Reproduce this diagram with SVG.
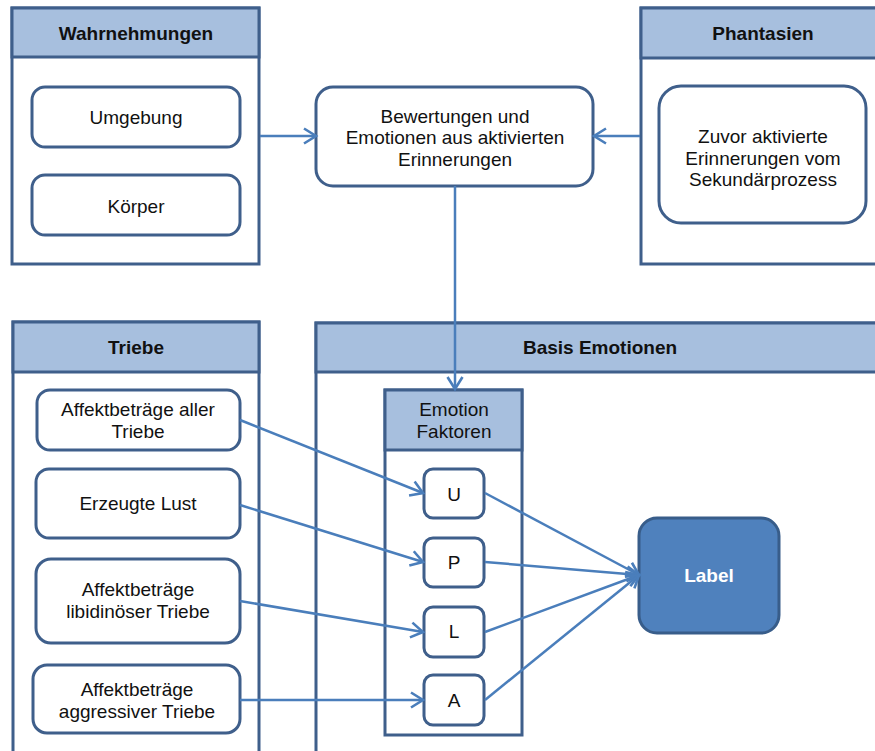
<svg xmlns="http://www.w3.org/2000/svg" width="875" height="751" viewBox="0 0 875 751">
  <style>
    .panel { fill: #ffffff; stroke: #3f5f8b; stroke-width: 3; }
    .head { fill: #a7bfde; stroke: #3f5f8b; stroke-width: 3; }
    .box { fill: #ffffff; stroke: #3f5f8b; stroke-width: 3; }
    .label { fill: #4f81bd; stroke: #385d8a; stroke-width: 3; }
    text { font-family: "Liberation Sans", Arial, sans-serif; font-size: 19px; fill: #111111; text-anchor: middle; }
    .bold { font-weight: bold; }
    .white { fill: #ffffff; }
    .conn { fill: none; stroke: #4a7ebb; stroke-width: 2.5; marker-end: url(#arrow); }
  </style>
  <defs>
    <marker id="arrow" markerUnits="userSpaceOnUse" markerWidth="16" markerHeight="20" refX="13" refY="9" orient="auto">
      <path d="M1,1.5 L13,9 L1,16.5" fill="none" stroke="#4a7ebb" stroke-width="2.6" stroke-linejoin="miter"/>
    </marker>
  </defs>

  <rect width="875" height="751" fill="#ffffff"/>

  <!-- Wahrnehmungen -->
  <g id="wahrnehmungen">
    <rect class="panel" x="12" y="8" width="247" height="256"/>
    <rect class="head" x="12" y="8" width="247" height="49"/>
    <text class="bold" x="136" y="40">Wahrnehmungen</text>
    <g id="umgebung">
      <rect class="box" x="32" y="87" width="208" height="60" rx="13"/>
      <text x="136" y="124">Umgebung</text>
    </g>
    <g id="koerper">
      <rect class="box" x="32" y="175" width="208" height="60" rx="13"/>
      <text x="136" y="213">Körper</text>
    </g>
  </g>

  <!-- Phantasien -->
  <g id="phantasien">
    <rect class="panel" x="641" y="8" width="244" height="256"/>
    <rect class="head" x="641" y="8" width="244" height="50"/>
    <text class="bold" x="763" y="40">Phantasien</text>
    <g id="zuvor">
      <rect class="box" x="659" y="86" width="207" height="137" rx="22"/>
      <text x="763" y="143">Zuvor aktivierte</text>
      <text x="763" y="165">Erinnerungen vom</text>
      <text x="763" y="186">Sekundärprozess</text>
    </g>
  </g>

  <!-- Bewertungen -->
  <g id="bewertungen">
    <rect class="box" x="316" y="87" width="277" height="99" rx="17"/>
    <text x="455" y="123">Bewertungen und</text>
    <text x="455" y="144">Emotionen aus aktivierten</text>
    <text x="455" y="166">Erinnerungen</text>
  </g>

  <!-- Triebe -->
  <g id="triebe">
    <rect class="panel" x="13" y="322" width="246" height="440"/>
    <rect class="head" x="13" y="322" width="246" height="50"/>
    <text class="bold" x="136" y="354">Triebe</text>
    <g id="affekt-alle">
      <rect class="box" x="37" y="390" width="203" height="60" rx="13"/>
      <text x="138" y="416">Affektbeträge aller</text>
      <text x="138" y="438">Triebe</text>
    </g>
    <g id="lust">
      <rect class="box" x="36" y="469" width="204" height="69" rx="13"/>
      <text x="138" y="510">Erzeugte Lust</text>
    </g>
    <g id="affekt-libido">
      <rect class="box" x="36" y="559" width="204" height="84" rx="15"/>
      <text x="138" y="596">Affektbeträge</text>
      <text x="138" y="618">libidinöser Triebe</text>
    </g>
    <g id="affekt-aggr">
      <rect class="box" x="33" y="665" width="207" height="68" rx="14"/>
      <text x="137" y="696">Affektbeträge</text>
      <text x="137" y="718">aggressiver Triebe</text>
    </g>
  </g>

  <!-- Basis Emotionen -->
  <g id="basis-emotionen">
    <rect class="panel" x="316" y="323" width="570" height="440"/>
    <rect class="head" x="316" y="323" width="570" height="49"/>
    <text class="bold" x="600" y="354">Basis Emotionen</text>
    <g id="emotion-faktoren">
      <rect class="panel" x="385" y="390" width="137" height="345"/>
      <rect class="head" x="385" y="390" width="137" height="60"/>
      <text x="454" y="416">Emotion</text>
      <text x="454" y="438">Faktoren</text>
    </g>
    <g id="u">
      <rect class="box" x="424" y="469" width="60" height="49" rx="9"/>
      <text x="454" y="501">U</text>
    </g>
    <g id="p">
      <rect class="box" x="424" y="538" width="60" height="49" rx="9"/>
      <text x="454" y="569">P</text>
    </g>
    <g id="l">
      <rect class="box" x="424" y="607" width="60" height="50" rx="9"/>
      <text x="454" y="638">L</text>
    </g>
    <g id="a">
      <rect class="box" x="424" y="675" width="60" height="50" rx="9"/>
      <text x="454" y="707">A</text>
    </g>
    <g id="label">
      <rect class="label" x="639" y="518" width="140" height="115" rx="18"/>
      <text class="bold white" x="709" y="582">Label</text>
    </g>
  </g>

  <!-- Connectors -->
  <g id="connectors">
    <line class="conn" x1="260" y1="136" x2="316" y2="136"/>
    <line class="conn" x1="640" y1="136" x2="594" y2="136"/>
    <line class="conn" x1="455" y1="186" x2="455" y2="389"/>
    <line class="conn" x1="240" y1="420" x2="423" y2="493"/>
    <line class="conn" x1="240" y1="505" x2="423" y2="562"/>
    <line class="conn" x1="240" y1="601" x2="423" y2="632"/>
    <line class="conn" x1="240" y1="700" x2="423" y2="700"/>
    <line class="conn" x1="485" y1="493" x2="639" y2="575"/>
    <line class="conn" x1="485" y1="562" x2="639" y2="575"/>
    <line class="conn" x1="485" y1="632" x2="639" y2="575"/>
    <line class="conn" x1="485" y1="700" x2="639" y2="575"/>
  </g>
</svg>
